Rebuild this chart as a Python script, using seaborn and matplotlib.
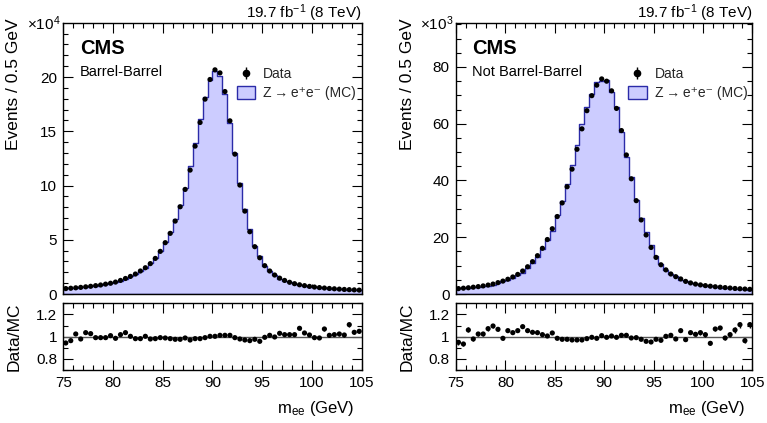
import numpy as np
import pandas as pd
import matplotlib
matplotlib.use("Agg")
import matplotlib.pyplot as plt
import seaborn as sns
from matplotlib.ticker import MultipleLocator
from matplotlib.patches import Patch
from matplotlib.lines import Line2D
from matplotlib.legend_handler import HandlerTuple

# ---------------- data ----------------
mass_lo, mass_hi, bin_width = 75.0, 105.0, 0.5

# Barrel-Barrel: data events per bin (x 1e4)
data_bb = [0.50, 0.53, 0.57, 0.61, 0.66, 0.71, 0.77, 0.83, 0.91, 0.99,
           1.10, 1.25, 1.43, 1.62, 1.84, 2.12, 2.42, 2.80, 3.28, 3.93,
           4.73, 5.59, 6.72, 8.04, 9.64, 11.42, 13.63, 15.81, 17.96, 19.77,
           20.66, 20.38, 18.66, 15.96, 12.89, 10.04, 7.64, 5.74, 4.36, 3.34,
           2.61, 2.12, 1.75, 1.46, 1.25, 1.08, 0.95, 0.85, 0.77, 0.70,
           0.64, 0.59, 0.55, 0.51, 0.48, 0.45, 0.42, 0.40, 0.38, 0.36]
ratio_bb = [0.943, 0.964, 1.024, 0.979, 1.036, 1.027, 0.991, 0.991, 0.991, 1.009,
            0.985, 1.018, 1.036, 1.003, 0.982, 0.982, 1.003, 0.979, 0.982, 0.991,
            0.988, 0.982, 0.976, 0.976, 0.988, 0.970, 0.982, 0.982, 0.991, 1.003,
            1.003, 1.012, 1.012, 1.012, 0.991, 0.979, 0.970, 0.964, 0.976, 0.958,
            0.994, 1.012, 0.997, 1.030, 1.018, 1.018, 1.018, 1.075, 1.033, 1.015,
            0.991, 0.988, 1.069, 1.012, 1.018, 1.024, 1.015, 1.108, 1.039, 1.048]

# Not Barrel-Barrel: data events per bin (x 1e3)
data_nbb = [1.90, 2.05, 2.20, 2.40, 2.60, 2.85, 3.15, 3.50, 4.00, 4.55,
            5.20, 6.00, 6.90, 8.10, 9.60, 11.40, 13.50, 16.10, 19.20, 23.00,
            27.30, 32.10, 37.80, 44.00, 51.00, 58.20, 64.60, 69.90, 73.60, 75.80,
            75.00, 71.60, 65.40, 57.60, 49.00, 40.60, 32.90, 26.10, 20.80, 16.40,
            12.90, 10.30, 8.50, 7.05, 6.10, 5.30, 4.45, 3.90, 3.50, 3.20,
            2.95, 2.75, 2.55, 2.40, 2.25, 2.10, 1.95, 1.85, 1.75, 1.65]
ratio_nbb = [0.949, 0.934, 1.060, 0.979, 1.024, 1.024, 1.072, 1.096, 1.066, 0.985,
             1.054, 1.036, 1.054, 1.090, 1.054, 1.039, 1.036, 1.018, 1.006, 1.033,
             0.985, 0.976, 0.976, 0.970, 0.970, 0.970, 0.982, 0.994, 0.985, 1.009,
             0.994, 1.006, 0.994, 1.012, 1.012, 0.988, 0.991, 0.976, 0.958, 0.952,
             0.976, 0.967, 1.003, 1.012, 0.979, 1.054, 0.973, 1.036, 1.021, 1.036,
             1.018, 0.940, 1.069, 1.078, 0.988, 1.018, 1.060, 1.108, 0.964, 1.108]

panel_labels = ["Barrel-Barrel", "Not Barrel-Barrel"]
panel_scales = [1e4, 1e3]
panel_exp = ["4", "3"]
lumi_text = r"19.7 fb$^{-1}$ (8 TeV)"
legend_labels = ["Data", "Z\u2009\u2192\u2009e\u207ae\u207b (MC)"]
xlabel = r"m$_{\mathrm{ee}}$ (GeV)"
ylabel = "Events / 0.5 GeV"
rlabel = "Data/MC"

# ---------------- style ----------------
sns.set_theme(style="ticks")
plt.rcParams["font.family"] = ["Liberation Sans", "DejaVu Sans"]
plt.rcParams["mathtext.fontset"] = "custom"
plt.rcParams["mathtext.rm"] = "Liberation Sans"
plt.rcParams["mathtext.it"] = "Liberation Sans:italic"
plt.rcParams["mathtext.bf"] = "Liberation Sans:bold"
plt.rcParams["axes.linewidth"] = 1.0
plt.rcParams["axes.edgecolor"] = "black"

FILL = "#ccccff"
EDGE = "#2b2ba8"

W, H = 767, 423
fig = plt.figure(figsize=(W / 100, H / 100), dpi=100)

def frac(x0, y0, x1, y1):
    return [x0 / W, 1 - y1 / H, (x1 - x0) / W, (y1 - y0) / H]

geoms = [
    (63.3, 361.7),
    (456.0, 752.3),
]
label_x = [14, 407]
main_ylims = [(0, 24.95), (0, 95.4)]
main_major = [5, 20]
main_minor = [1, 5]

edges = np.arange(mass_lo, mass_hi + bin_width / 2, bin_width)
centers = 0.5 * (edges[:-1] + edges[1:])

def style_axis(ax, major_len=7, minor_len=3.5):
    ax.tick_params(which="both", direction="in", top=True, right=True,
                   colors="black", labelsize=11, pad=4.5)
    ax.tick_params(which="major", length=major_len, width=0.8)
    ax.tick_params(which="minor", length=minor_len, width=0.8)
    for s in ax.spines.values():
        s.set_visible(True)
        s.set_color("black")
        s.set_linewidth(1.0)

datasets = [(data_bb, ratio_bb), (data_nbb, ratio_nbb)]

for k, ((x0, x1), (dvals, rvals)) in enumerate(zip(geoms, datasets)):
    axm = fig.add_axes(frac(x0, 23.3, x1, 294.0))
    axr = fig.add_axes(frac(x0, 303.3, x1, 370.0))

    d = np.array(dvals)
    r = np.array(rvals)
    mc = d / r
    n_events = d * panel_scales[k]
    d_err = np.sqrt(n_events) / panel_scales[k]
    r_err = r / np.sqrt(n_events)

    df = pd.DataFrame({"m": centers, "mc": mc, "data": d, "ratio": r})

    sns.histplot(data=df, x="m", weights="mc", binwidth=bin_width,
                 binrange=(mass_lo, mass_hi), element="step",
                 fill=True, color=FILL, alpha=1.0, edgecolor=EDGE, linewidth=1.0,
                 ax=axm, zorder=1)
    axm.errorbar(df["m"], df["data"], yerr=d_err, fmt="none", ecolor="black",
                 elinewidth=1.0, zorder=3)
    sns.scatterplot(data=df, x="m", y="data", color="black", s=14,
                    edgecolor="none", ax=axm, zorder=4)

    axm.set_xlim(mass_lo, mass_hi)
    axm.set_ylim(*main_ylims[k])
    axm.xaxis.set_major_locator(MultipleLocator(5))
    axm.xaxis.set_minor_locator(MultipleLocator(1))
    axm.yaxis.set_major_locator(MultipleLocator(main_major[k]))
    axm.yaxis.set_minor_locator(MultipleLocator(main_minor[k]))
    axm.set_xticklabels([])
    axm.set_xlabel("")
    axm.set_ylabel("")
    style_axis(axm)
    fig.text(label_x[k] / W, 1 - 18 / H, ylabel, rotation=90, rotation_mode="anchor",
             ha="right", va="center", fontsize=12.5, color="black")
    axm.text(-0.01, 1.0, r"$\times$10$^{%s}$" % panel_exp[k], transform=axm.transAxes,
             ha="right", va="center", fontsize=11, color="black")
    axm.text(1.0, (294 - 18.5) / 270.7, lumi_text, transform=axm.transAxes, ha="right",
             va="baseline", fontsize=11, color="black")
    axm.text(0.055, 0.942, "CMS", transform=axm.transAxes, ha="left", va="top",
             fontsize=14.5, fontweight="bold", color="black")
    axm.text(0.055, 0.82, panel_labels[k], transform=axm.transAxes, ha="left",
             va="center", fontsize=10.5, color="black")

    h_data = (Line2D([], [], marker="o", color="black", linestyle="none", markersize=4.5),
              Line2D([], [], marker="|", color="black", linestyle="none", markersize=9,
                     markeredgewidth=1.0))
    h_mc = Patch(facecolor=FILL, edgecolor=EDGE, linewidth=1.0)
    axm.legend([h_data, h_mc], legend_labels, loc="upper left",
               bbox_to_anchor=(0.582, 0.838), frameon=False, fontsize=10,
               handlelength=1.3, handleheight=1.0, handletextpad=0.58,
               labelspacing=0.36, borderaxespad=0, borderpad=0,
               handler_map={tuple: HandlerTuple(ndivide=1, pad=0)})

    # ratio panel
    axr.axhline(1.0, color="#555555", linewidth=1.0, zorder=1)
    axr.errorbar(df["m"], df["ratio"], yerr=r_err, fmt="none", ecolor="black",
                 elinewidth=1.0, zorder=3)
    sns.scatterplot(data=df, x="m", y="ratio", color="black", s=14,
                    edgecolor="none", ax=axr, zorder=4)
    axr.set_xlim(mass_lo, mass_hi)
    axr.set_ylim(0.7, 1.3)
    axr.xaxis.set_major_locator(MultipleLocator(5))
    axr.xaxis.set_minor_locator(MultipleLocator(1))
    axr.set_yticks([0.8, 1.0, 1.2])
    axr.set_yticklabels(["0.8", "1", "1.2"])
    axr.yaxis.set_minor_locator(MultipleLocator(0.1))
    style_axis(axr)
    axr.set_ylabel("")
    axr.set_xlabel("")
    fig.text(label_x[k] / W, 1 - 336.7 / H, rlabel, rotation=90, rotation_mode="anchor",
             ha="center", va="center", fontsize=12.5, color="black")
    fig.text((x1 - 7) / W, 1 - 408 / H, xlabel, ha="right", va="center",
             fontsize=12, color="black")

fig.savefig("out.png", dpi=100)
